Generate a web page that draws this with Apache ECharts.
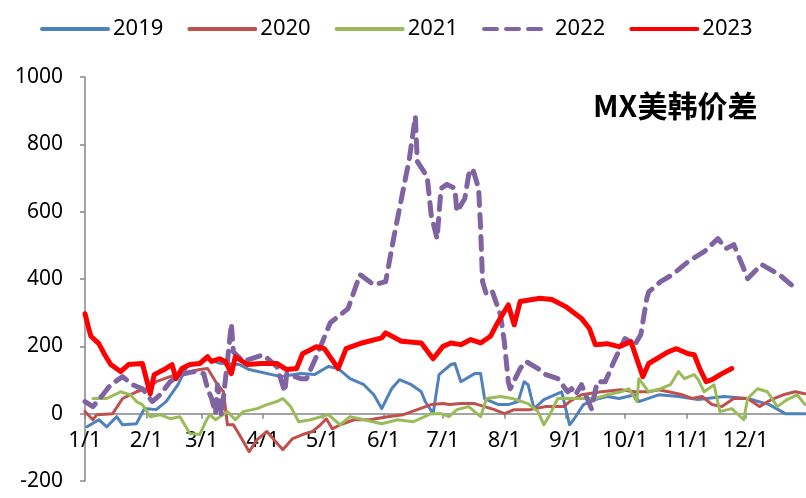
<!DOCTYPE html>
<html>
<head>
<meta charset="utf-8">
<script src="https://cdn.jsdelivr.net/npm/echarts@6/dist/echarts.min.js"></script>
<style>
  html,body{margin:0;padding:0;background:#fff}
  #chart{width:806px;height:498px}
</style>
</head>
<body>
<div id="chart"></div>
<script>
// 每月天数，用来生成 1/1 ... 12/31 的日期类目
var monthDays = [31, 28, 31, 30, 31, 30, 31, 31, 30, 31, 30, 31]
var monthLabels = ['1/1','2/1','3/1','4/1','5/1','6/1','7/1','8/1','9/1','10/1','11/1','12/1']
var yTicks = [-200, 0, 200, 400, 600, 800, 1000]
var years = ['2019', '2020', '2021', '2022', '2023']

var days = []
monthDays.forEach(function (n, m) {
  for (var d = 1; d <= n; d++) days.push((m + 1) + '/' + d)
})

// 各年份价差
var s2019 = [['1/2',-39],['1/8',-18],['1/12',-39],['1/17',-9],['1/20',-33],['1/27',-30],['1/31',15],['2/6',12],['2/11',36],['2/17',86],['2/22',146],['2/27',146],['3/4',163],['3/10',150],['3/20',146],['3/25',131],['4/10',110],['4/20',119],['4/27',116],['5/4',140],['5/9',134],['5/15',104],['5/22',86],['5/27',56],['5/31',15],['6/5',74],['6/9',101],['6/15',86],['6/20',65],['6/22',36],['6/26',0],['6/29',116],['7/5',146],['7/7',149],['7/10',95],['7/17',119],['7/20',119],['7/22',45],['7/29',27],['8/3',27],['8/8',36],['8/11',95],['8/13',86],['8/16',15],['8/21',42],['8/30',65],['9/3',-33],['9/5',-18],['9/10',27],['9/16',42],['9/22',51],['9/28',45],['10/6',56],['10/8',36],['10/18',56],['10/28',51],['11/7',42],['11/20',51],['12/2',45],['12/13',27],['12/21',0],['12/31',0]]
var s2020 = [['1/1',6],['1/5',-18],['1/7',-3],['1/15',0],['1/20',45],['1/27',65],['2/1',74],['2/6',95],['2/13',110],['2/19',119],['2/28',131],['3/4',134],['3/9',86],['3/12',65],['3/14',-33],['3/17',-33],['3/20',-62],['3/25',-113],['3/29',-77],['4/3',-53],['4/6',-74],['4/11',-107],['4/16',-74],['4/21',-62],['4/26',-53],['4/30',-33],['5/3',-15],['5/6',-45],['5/10',-33],['5/17',-18],['5/25',-18],['6/3',-9],['6/11',-3],['6/18',12],['6/25',27],['7/1',30],['7/4',27],['7/10',30],['7/17',30],['7/22',21],['7/27',12],['8/1',0],['8/6',12],['8/14',12],['8/22',21],['8/31',21],['9/3',36],['9/9',56],['9/19',65],['9/29',71],['10/6',65],['10/13',65],['10/18',71],['10/23',65],['10/30',56],['11/4',45],['11/9',51],['11/14',27],['11/19',21],['11/25',45],['12/2',45],['12/8',21],['12/14',42],['12/20',56],['12/26',65],['12/31',59]]
var s2021 = [['1/5',45],['1/12',45],['1/19',65],['1/24',56],['1/27',36],['1/30',27],['2/3',-9],['2/8',-3],['2/13',-15],['2/18',-9],['2/23',-59],['2/28',-62],['3/3',-24],['3/5',-3],['3/8',-18],['3/14',6],['3/18',-18],['3/22',6],['3/29',15],['4/3',27],['4/8',36],['4/11',45],['4/15',21],['4/19',-24],['4/25',-18],['5/4',-3],['5/10',-33],['5/15',-9],['5/22',-18],['5/31',-30],['6/8',-18],['6/16',-24],['6/25',0],['6/30',0],['7/4',-9],['7/8',12],['7/14',21],['7/20',-9],['7/23',45],['7/30',51],['8/5',45],['8/13',30],['8/18',6],['8/21',-33],['8/24',-3],['8/28',45],['9/2',45],['9/9',45],['9/16',45],['9/22',56],['9/29',65],['10/3',74],['10/7',36],['10/8',104],['10/13',65],['10/19',74],['10/24',86],['10/28',125],['10/31',104],['11/5',116],['11/7',101],['11/10',65],['11/15',86],['11/18',6],['11/24',15],['11/30',-18],['12/2',45],['12/7',74],['12/12',65],['12/17',21],['12/22',42],['12/27',56],['12/31',27]]
var s2022 = [['1/1',36],['1/5',21],['1/10',56],['1/14',86],['1/20',110],['1/25',86],['1/30',74],['2/4',36],['2/8',56],['2/13',95],['2/18',116],['2/25',125],['3/2',119],['3/4',74],['3/6',45],['3/8',0],['3/9',86],['3/11',-5],['3/14',155],['3/16',268],['3/17',184],['3/22',155],['4/1',175],['4/8',140],['4/12',65],['4/13',119],['4/20',104],['4/23',104],['4/28',170],['5/5',270],['5/14',312],['5/20',413],['5/27',383],['6/2',392],['6/6',520],['6/10',639],['6/14',758],['6/17',883],['6/18',749],['6/23',704],['6/25',591],['6/28',520],['6/30',669],['7/3',681],['7/7',669],['7/8',600],['7/12',639],['7/14',710],['7/16',728],['7/19',669],['7/20',550],['7/21',392],['7/23',353],['7/26',362],['7/30',294],['8/1',214],['8/3',95],['8/4',74],['8/9',134],['8/12',155],['8/18',134],['8/22',116],['8/28',104],['9/2',65],['9/4',74],['9/6',56],['9/9',86],['9/14',15],['9/17',95],['9/21',95],['9/26',163],['10/1',223],['10/6',205],['10/9',235],['10/12',342],['10/13',362],['10/19',392],['10/25',413],['11/2',452],['11/10',481],['11/17',520],['11/21',490],['11/25',502],['11/30',431],['12/2',401],['12/9',443],['12/18',413],['12/27',368]]
var s2023 = [['1/1',297],['1/3',250],['1/4',230],['1/8',208],['1/11',175],['1/14',146],['1/19',125],['1/23',146],['1/30',149],['2/3',59],['2/5',116],['2/10',131],['2/14',146],['2/16',104],['2/19',134],['2/23',146],['2/28',149],['3/4',169],['3/6',155],['3/10',163],['3/13',155],['3/16',119],['3/18',169],['3/24',146],['3/31',149],['4/8',149],['4/13',131],['4/18',134],['4/21',178],['4/28',199],['5/2',193],['5/9',134],['5/13',193],['5/21',210],['5/31',225],['6/2',240],['6/10',215],['6/20',210],['6/26',163],['7/1',200],['7/5',210],['7/10',205],['7/15',220],['7/20',210],['7/25',230],['7/28',264],['8/3',323],['8/6',264],['8/9',333],['8/19',343],['8/25',339],['9/1',318],['9/9',283],['9/13',253],['9/16',205],['9/22',208],['9/28',199],['10/4',214],['10/10',110],['10/13',149],['10/23',184],['10/27',193],['11/2',178],['11/5',175],['11/8',131],['11/11',95],['11/14',101],['11/19',119],['11/24',134]]

var colors = ['#4F81BD', '#C0504D', '#9BBB59', '#8064A2', '#FF0000']
var seriesData = [s2019, s2020, s2021, s2022, s2023]
var font = "'Noto Sans', 'Noto Sans CJK SC', sans-serif"

// 绘图区
var gridTop = 77, gridBottom = 17, chartH = 498
var plotH = chartH - gridTop - gridBottom
var yMin = yTicks[0], yMax = yTicks[yTicks.length - 1]
// x轴放在0值处（标签和刻度一起移上来）
var zeroOffset = plotH * (0 - yMin) / (yMax - yMin)

var series = years.map(function (y, i) {
  var ls = { color: colors[i], width: 3, cap: 'round', join: 'round' }
  if (y === '2022') { ls.width = 5; ls.type = [13, 9] }
  if (y === '2023') { ls.width = 5 }
  return {
    name: y,
    type: 'line',
    data: seriesData[i],
    showSymbol: false,
    symbol: 'none',
    color: colors[i],
    lineStyle: ls
  }
})

var option = {
  animation: false,
  title: {
    text: 'MX美韩价差',
    left: 588,
    top: 86,
    textStyle: { fontFamily: "'Noto Sans CJK SC', sans-serif", fontSize: 30, fontWeight: 'bold', color: '#000' }
  },
  legend: {
    data: years,
    top: 13,
    left: 35,
    itemWidth: 66,
    itemHeight: 14,
    itemGap: 24,
    itemStyle: { opacity: 0 },
    lineStyle: { width: 4 },
    textStyle: { fontFamily: font, fontSize: 22, color: '#000' }
  },
  grid: { left: 85, right: 1, top: gridTop, bottom: gridBottom, containLabel: false, outerBoundsMode: 'none' },
  xAxis: {
    type: 'category',
    data: days,
    boundaryGap: false,
    offset: -zeroOffset,
    axisLine: { onZero: false, lineStyle: { color: '#868686', width: 1.5 } },
    axisTick: {
      length: 5,
      lineStyle: { color: '#868686', width: 1.5 },
      interval: function (idx, val) { return monthLabels.indexOf(val) >= 0 }
    },
    axisLabel: {
      margin: 16,
      fontFamily: font,
      fontSize: 22,
      color: '#000',
      interval: function (idx, val) { return monthLabels.indexOf(val) >= 0 }
    },
    splitLine: { show: false }
  },
  yAxis: {
    type: 'value',
    min: yMin,
    max: yMax,
    interval: 200,
    axisLine: { show: true, lineStyle: { color: '#868686', width: 1.5 } },
    axisTick: { show: true, length: 5, lineStyle: { color: '#868686', width: 1.5 } },
    axisLabel: { margin: 22, fontFamily: font, fontSize: 21, color: '#000', formatter: function (v) { return String(v) } },
    splitLine: { show: false }
  },
  series: series
}

var chartObj = echarts.init(document.getElementById('chart'))
chartObj.setOption(option)
</script>
</body>
</html>
